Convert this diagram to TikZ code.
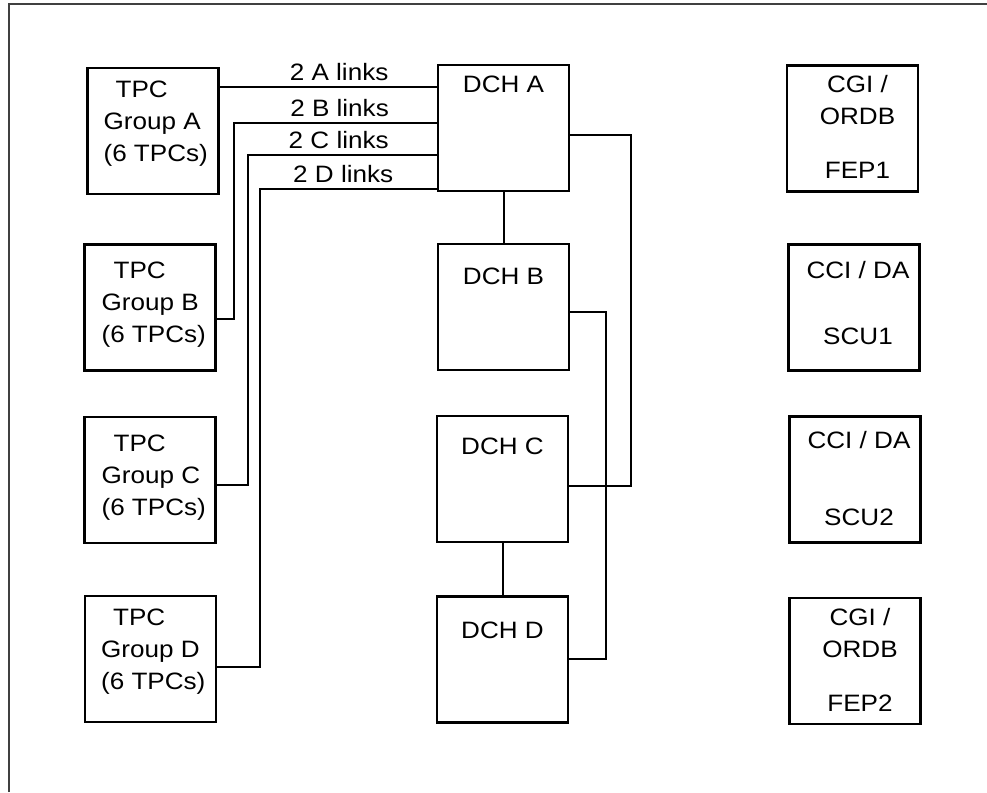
\documentclass[tikz,border=0pt]{standalone}
\usepackage{fontspec}
\setmainfont{Liberation Sans}[FakeStretch=1.1]
\usetikzlibrary{positioning}

\begin{document}
\begin{tikzpicture}[x=1pt, y=1pt, font=\fontsize{23.7pt}{32pt}\selectfont,
    box/.style={rectangle, draw, line width=2.2pt, minimum width=131pt, minimum height=126pt, inner sep=0pt},
    tpctext/.style={anchor=north west, align=left, inner sep=0pt},
    boxtext/.style={anchor=north, align=center, inner sep=0pt},
    link/.style={line width=2pt},
    linklabel/.style={above=5pt, inner sep=0pt}]
    \useasboundingbox (0,0) rectangle (987,792);
    \draw [line width=1.5pt, black!75] (9,0) -- (9,788) -- (987,788);

    \node [box, label={[tpctext, xshift=17pt, yshift=-14pt]north west:\hspace*{12pt}TPC\\Group A\\(6 TPCs)}] (tpcA) at (153,661) {};
    \node [box, label={[tpctext, xshift=18pt, yshift=-18pt]north west:\hspace*{12pt}TPC\\Group B\\(6 TPCs)}] (tpcB) at (150,484.5) {};
    \node [box, label={[tpctext, xshift=18pt, yshift=-19pt]north west:\hspace*{12pt}TPC\\Group C\\(6 TPCs)}] (tpcC) at (150,312) {};
    \node [box, label={[tpctext, xshift=17pt, yshift=-14pt]north west:\hspace*{12pt}TPC\\Group D\\(6 TPCs)}] (tpcD) at (150.5,133) {};

    \node [box, label={[boxtext, yshift=-12pt]north:DCH A}] (dchA) at (503.5,664) {};
    \node [box, label={[boxtext, yshift=-25pt]north:DCH B}] (dchB) at (503.5,485) {};
    \node [box, label={[boxtext, yshift=-23pt]north:DCH C}] (dchC) at (502.5,313) {};
    \node [box, label={[boxtext, yshift=-26pt]north:DCH D}] (dchD) at (502.5,132.5) {};

    \node [box, label={[boxtext, xshift=5pt, yshift=-11pt]north:CGI /\\ORDB\\[22pt]FEP1}] (fep1) at (852.5,663.5) {};
    \node [box, label={[boxtext, xshift=4pt, yshift=-18pt]north:CCI / DA\\[34pt]SCU1}] (scu1) at (854,484.5) {};
    \node [box, label={[boxtext, xshift=4pt, yshift=-16pt]north:CCI / DA\\[45pt]SCU2}] (scu2) at (855,312.5) {};
    \node [box, label={[boxtext, xshift=5pt, yshift=-11pt]north:CGI /\\ORDB\\[22pt]FEP2}] (fep2) at (855,131) {};

    \draw [link] ([yshift=44pt]tpcA.east) -- node[linklabel, pos=.55]{2 A links} ([yshift=41pt]dchA.west);
    \draw [link] ([yshift=-11.5pt]tpcB.east) -| ++(17.5,196) -- node[linklabel, pos=.52]{2 B links} ([yshift=5pt]dchA.west);
    \draw [link] ([yshift=-5pt]tpcC.east) -| ++(31.5,330) -- node[linklabel, pos=.48]{2 C links} ([yshift=-27pt]dchA.west);
    \draw [link] ([yshift=-8pt]tpcD.east) -| ++(43,478) -- node[linklabel, pos=.47]{2 D links} ([yshift=-61pt]dchA.west);

    \draw [link] (dchA.south) -- (dchB.north);
    \draw [link] (dchC.south) -- (dchD.north);
    \draw [link] ([yshift=-7pt]dchA.east) -| ([xshift=62pt, yshift=-7pt]dchC.east) -- ([yshift=-7pt]dchC.east);
    \draw [link] ([yshift=-5pt]dchB.east) -| ([xshift=37pt]dchD.east) -- (dchD.east);
\end{tikzpicture}
\end{document}
